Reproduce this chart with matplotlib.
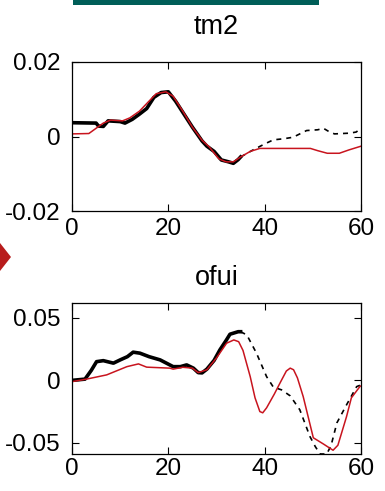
import matplotlib
matplotlib.use("Agg")
import matplotlib.pyplot as plt
from matplotlib.patches import Polygon, Rectangle

plt.rcParams['font.family'] = ['Liberation Sans', 'DejaVu Sans']

# ---- data: panel 1 (tm2) ----
tm2_black_t = [0, 5, 5.5, 6.5, 7.5, 10, 11, 12.5, 14, 15.5, 17, 18.5, 20, 21.5, 23, 25, 27, 28, 29.5, 31, 32.5, 33.5, 34.5, 35]
tm2_black_v = [0.0037, 0.0036, 0.0028, 0.0027, 0.0042, 0.004, 0.0036, 0.0046, 0.006, 0.0075, 0.0105, 0.0118, 0.012, 0.0095,
               0.0065, 0.0025, -0.0012, -0.0026, -0.004, -0.0063, -0.0068, -0.0072, -0.0062, -0.0055]
tm2_dash_t = [35, 37.6, 40, 41.8, 44, 45.9, 48.7, 51, 52.2, 53.5, 54.5, 57.7, 59, 60]
tm2_dash_v = [-0.0055, -0.0036, -0.002, -0.0009, -0.0006, -0.0002, 0.0016, 0.0018, 0.0022, 0.0012, 0.0007, 0.0009, 0.0012, 0.0022]
tm2_red_t = [0, 3.5, 5, 6.5, 8, 10.5, 12, 14, 16, 17.5, 19.5, 21, 23, 25, 27, 28.5, 30.5, 32, 33.5, 35, 37, 39, 44, 49.5,
             51, 53, 55.5, 57.5, 60]
tm2_red_v = [0.0007, 0.0008, 0.0022, 0.0036, 0.0044, 0.0042, 0.005, 0.0068, 0.0095, 0.0115, 0.012, 0.0108, 0.0068, 0.0025,
             -0.001, -0.0028, -0.006, -0.0068, -0.0068, -0.0055, -0.004, -0.0032, -0.0032, -0.0032, -0.0038, -0.0045,
             -0.0045, -0.0036, -0.0026]

# ---- data: panel 2 (ofui) ----
ofui_black_t = [0, 2.7, 4, 5.1, 6.5, 8.6, 10, 11.5, 12.7, 14.1, 16, 18.3, 21, 22.5, 23.8, 25.2, 26.2, 27, 28, 29.5, 30.7,
                32, 32.8, 34.5, 35]
ofui_black_v = [0, 0.001, 0.008, 0.015, 0.0158, 0.0138, 0.0164, 0.019, 0.0226, 0.0218, 0.019, 0.0164, 0.011, 0.011, 0.0124,
                0.0098, 0.0062, 0.006, 0.009, 0.016, 0.0244, 0.032, 0.037, 0.039, 0.039]
ofui_dash_t = [35, 36.3, 38.3, 40.4, 41.8, 43.5, 45.3, 47.3, 49.4, 50.5, 51.5, 52.9, 53.8, 55, 57, 59.1, 60]
ofui_dash_v = [0.039, 0.0364, 0.0218, 0.003, -0.0054, -0.0076, -0.0124, -0.0236, -0.045, -0.053, -0.059, -0.059, -0.052,
               -0.034, -0.0196, -0.005, -0.0036]
ofui_red_t = [0, 3, 7.2, 11.4, 13.8, 15.5, 20.3, 21, 23, 25, 26.2, 28, 30, 32.1, 33.6, 34.6, 35.5, 37, 38, 39, 39.6, 40.4,
              42, 43.2, 44.5, 45.3, 46, 46.8, 48, 50.1, 52.2, 54.2, 55.2, 57, 58, 59.8, 60]
ofui_red_v = [-0.001, 0.001, 0.0044, 0.011, 0.0132, 0.0106, 0.0098, 0.009, 0.0105, 0.0098, 0.0062, 0.0085, 0.018, 0.0298,
              0.0324, 0.031, 0.024, 0.003, -0.014, -0.025, -0.026, -0.022, -0.011, -0.002, 0.0075, 0.0098, 0.0085,
              0.002, -0.013, -0.046, -0.051, -0.056, -0.052, -0.029, -0.014, -0.0048, -0.0044]

xticks = [0, 20, 40, 60]
tm2_yticks = [-0.02, 0, 0.02]
tm2_ylabels = ['-0.02', '0', '0.02']
ofui_yticks = [-0.05, 0, 0.05]
ofui_ylabels = ['-0.05', '0', '0.05']

W, H = 385, 491
fig = plt.figure(figsize=(W / 100, H / 100), dpi=100)
fig.patch.set_facecolor('white')

# decorative elements from slide
fig.add_artist(Rectangle((73 / W, 1 - 5 / H), (319 - 73) / W, 5 / H, transform=fig.transFigure,
                         facecolor='#005e58', edgecolor='none'))
fig.add_artist(Polygon([(0, 1 - 243 / H), (11 / W, 1 - 257 / H), (0, 1 - 271 / H)], closed=True,
                       transform=fig.transFigure, facecolor='#b81c1c', edgecolor='none'))

RED = '#c8141e'
FS = 17.5
TFS = 19.5


def style(ax, yt, yl, title, tpad, xpad):
    ax.set_xlim(0, 60)
    ax.set_xticks(xticks)
    ax.set_xticklabels([str(x) for x in xticks])
    ax.set_yticks(yt)
    ax.set_yticklabels(yl)
    ax.tick_params(direction='in', length=5, width=0.8, top=True, right=True, labelsize=FS, pad=xpad)
    ax.tick_params(axis='y', pad=8)
    for s in ax.spines.values():
        s.set_linewidth(0.9)
    ax.set_title(title, fontsize=TFS, pad=tpad)


ax1 = fig.add_axes([72 / W, 1 - 211 / H, (361 - 72) / W, (211 - 62) / H])
ax1.plot(tm2_black_t, tm2_black_v, color='black', lw=2.6)
ax1.plot(tm2_dash_t, tm2_dash_v, color='black', lw=1.2, ls=(0, (3, 3)))
ax1.plot(tm2_red_t, tm2_red_v, color=RED, lw=1.1)
ax1.set_ylim(-0.02, 0.02)
style(ax1, tm2_yticks, tm2_ylabels, 'tm2', 20, 5)

ax2 = fig.add_axes([72 / W, 1 - 454 / H, (361 - 72) / W, (454 - 303) / H])
ax2.plot(ofui_black_t, ofui_black_v, color='black', lw=2.6)
ax2.plot(ofui_dash_t, ofui_dash_v, color='black', lw=1.2, ls=(0, (3, 3)))
ax2.plot(ofui_red_t, ofui_red_v, color=RED, lw=1.1)
ax2.set_ylim(-0.059, 0.062)
style(ax2, ofui_yticks, ofui_ylabels, 'ofui', 13, 3)

fig.savefig('out.png', dpi=100)
